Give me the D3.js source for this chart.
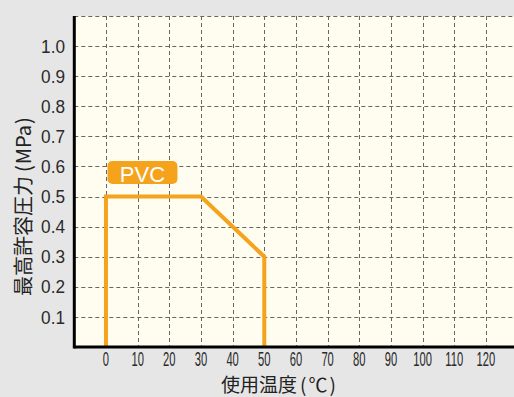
<!DOCTYPE html>
<html><head><meta charset="utf-8">
<script src="https://cdn.jsdelivr.net/npm/d3@7"></script>
<style>
html,body{margin:0;padding:0;background:#e6e6e6;}
svg{display:block;}
</style></head>
<body>
<script>
const xTicks = [0,10,20,30,40,50,60,70,80,90,100,110,120];
const yTicks = [0.1,0.2,0.3,0.4,0.5,0.6,0.7,0.8,0.9,1.0];
const xGrid = [0,10,20,30,40,50,60,70,80,90,100,110,120,130];
const yGrid = [0.1,0.2,0.3,0.4,0.5,0.6,0.7,0.8,0.9,1.0,1.1];
const pvcTemp = [0,0,30,50,50];
const pvcPressure = [0,0.5,0.5,0.3,0];
const seriesName = "PVC";
const xTitleParts = ["使用温度", "(", "℃", ")"];
const yTitleParts = ["最高許容圧力", "(", "MPa", ")"];

const W = 514, H = 397;
const svg = d3.select("body").append("svg").attr("width", W).attr("height", H);
svg.append("rect").attr("width", W).attr("height", H).attr("fill", "#e6e6e6");

const x = d3.scaleLinear().domain([-10, 130]).range([74.3, 517.6]);
const y = d3.scaleLinear().domain([0, 1.1]).range([347, 16]);

svg.append("rect").attr("x", x(-10)).attr("y", y(1.1)).attr("width", W - x(-10)).attr("height", y(0) - y(1.1)).attr("fill", "#fffdef");

const grid = svg.append("g").attr("stroke", "#666").attr("stroke-width", 1).attr("stroke-dasharray", "4,3").attr("fill", "none");
grid.selectAll("line.h").data(yGrid).join("line").attr("class","h")
  .attr("x1", x(-10)).attr("x2", W).attr("y1", d => Math.round(y(d)) + 0.5).attr("y2", d => Math.round(y(d)) + 0.5);
grid.selectAll("line.v").data(xGrid).join("line").attr("class","v")
  .attr("x1", d => Math.round(x(d)) + 0.5).attr("x2", d => Math.round(x(d)) + 0.5).attr("y1", y(1.1)).attr("y2", y(0));

// PVC line
const pts = pvcTemp.map((t, i) => [t, pvcPressure[i]]);
svg.append("path").datum(pts)
  .attr("d", d3.line().x(d => x(d[0])).y(d => y(d[1])))
  .attr("fill", "none").attr("stroke", "#f5a31c").attr("stroke-width", 4).attr("stroke-linejoin", "miter");

// axes
svg.append("line").attr("x1", x(-10)).attr("x2", x(-10)).attr("y1", y(1.1)).attr("y2", y(0) + 1.5)
  .attr("stroke", "#000").attr("stroke-width", 3);
svg.append("line").attr("x1", x(-10)).attr("x2", W).attr("y1", y(0)).attr("y2", y(0))
  .attr("stroke", "#000").attr("stroke-width", 3);

// y tick labels
svg.append("g").selectAll("text").data(yTicks).join("text")
  .attr("transform", d => `translate(65,${y(d) + 6.6}) scale(0.93,1)`)
  .attr("text-anchor", "end").attr("font-family", "Liberation Sans, Arial, sans-serif")
  .attr("font-size", 18.5).attr("fill", "#2a2a2a").text(d => d.toFixed(1));

// x tick labels (condensed)
svg.append("g").selectAll("text").data(xTicks).join("text")
  .attr("transform", d => `translate(${x(d)},366) scale(0.56,1)`)
  .attr("text-anchor", "middle").attr("font-family", "Liberation Sans, Arial, sans-serif")
  .attr("font-size", 20).attr("fill", "#2a2a2a").text(d => d);

// PVC label
const lab = svg.append("g");
lab.append("rect").attr("x", x(0) + 1.5).attr("y", 161).attr("width", 70).attr("height", 23).attr("rx", 5)
  .attr("fill", "#f5a31c");
lab.append("text").attr("x", x(0) + 36.5).attr("y", 181.5).attr("text-anchor", "middle")
  .attr("font-family", "Liberation Sans, Arial, sans-serif").attr("font-size", 22).attr("fill", "#fff").text(seriesName);

// axis titles
const xt = svg.append("text").attr("x", 221).attr("y", 392)
  .attr("font-family", "Noto Sans CJK JP, sans-serif").attr("font-size", 19).attr("fill", "#222");
xt.selectAll("tspan").data(xTitleParts).join("tspan")
  .attr("dx", (d, i) => [0, 3, 2, 2][i]).text(d => d);

const yt = svg.append("text").attr("transform", "translate(31,296) rotate(-90)")
  .attr("font-family", "Noto Sans CJK JP, sans-serif").attr("font-size", 20).attr("fill", "#222");
yt.selectAll("tspan").data(yTitleParts).join("tspan")
  .attr("dx", (d, i) => [0, 4, 1, 1][i]).text(d => d);
</script>
</body></html>
